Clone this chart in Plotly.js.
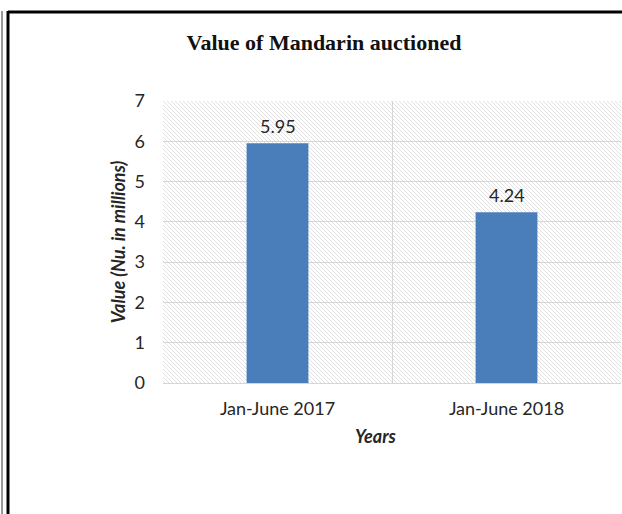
<!DOCTYPE html>
<html>
<head>
<meta charset="utf-8">
<script src="https://cdn.plot.ly/plotly-3.0.1.min.js"></script>
<style>
  html, body { margin: 0; padding: 0; background: #fff; }
  #chart { width: 622px; height: 514px; }
</style>
</head>
<body>
<div id="chart"></div>
<script>
// ---- data ----
const categories = ["Jan-June 2017", "Jan-June 2018"];
const values = [5.95, 4.24];
const valueLabels = ["5.95", "4.24"];
const yTicks = [0, 1, 2, 3, 4, 5, 6, 7];

// ---- geometry (pixels) ----
const W = 622, H = 514;
const M = { l: 163, r: 1, t: 101, b: 131 };
const PW = W - M.l - M.r, PH = H - M.t - M.b;
const px = v => (v - M.l) / PW;          // pixel x -> paper x
const py = v => (H - M.b - v) / PH;      // pixel y -> paper y

// hatched plot background as an SVG image
const svg = '<svg xmlns="http://www.w3.org/2000/svg" width="' + PW + '" height="' + PH + '">' +
  '<defs><pattern id="p" width="4" height="4" patternUnits="userSpaceOnUse">' +
  '<path d="M-1,-1 L5,5 M-1,3 L1,5 M3,-1 L5,1" stroke="#dedede" stroke-width="0.9"/>' +
  '</pattern></defs><rect width="100%" height="100%" fill="#fff"/>' +
  '<rect width="100%" height="100%" fill="url(#p)"/></svg>';
const bgSrc = 'data:image/svg+xml;charset=utf-8,' + encodeURIComponent(svg);

const textFont = { family: "Lato, Open Sans, sans-serif", size: 18, color: "#262626" };

const trace = {
  type: "bar",
  x: categories,
  y: values,
  marker: { color: "#4a7ebb" },
  hoverinfo: "x+y"
};

const annotations = categories.map((c, i) => ({
  x: c, y: values[i], xref: "x", yref: "y",
  text: valueLabels[i], showarrow: false,
  yanchor: "bottom", yshift: 4,
  font: textFont
}));
annotations.push({
  text: "<b><i>Years</i></b>", showarrow: false,
  xref: "paper", yref: "paper", x: px(376), y: py(436),
  xanchor: "center", yanchor: "middle",
  font: textFont
});

const lineCol = "#000";
const shapes = [
  { type: "line", xref: "paper", yref: "paper", x0: px(8), x1: px(640), y0: py(12), y1: py(12), line: { color: lineCol, width: 3 } },
  { type: "line", xref: "paper", yref: "paper", x0: px(8), x1: px(8), y0: py(11), y1: py(530), line: { color: lineCol, width: 3 } },
  { type: "line", xref: "paper", yref: "paper", x0: px(2), x1: px(2), y0: py(11), y1: py(530), line: { color: "#333", width: 1 } }
];

const layout = {
  width: W, height: H,
  margin: M,
  paper_bgcolor: "#fff",
  plot_bgcolor: "rgba(0,0,0,0)",
  showlegend: false,
  bargap: 0.73,
  title: {
    text: "<b>Value of Mandarin auctioned</b>",
    font: { family: "Liberation Serif, Times New Roman, serif", size: 22, color: "#111" },
    x: px(324), xref: "paper", xanchor: "center",
    y: 1 - 42 / H, yref: "container", yanchor: "middle"
  },
  xaxis: {
    type: "category",
    tickson: "boundaries",
    showgrid: true, gridcolor: "#d6d6d6", gridwidth: 1,
    showline: true, linecolor: "#d6d6d6", linewidth: 1,
    ticks: "", ticklabelstandoff: 9,
    tickfont: textFont,
    zeroline: false,
    fixedrange: true
  },
  yaxis: {
    range: [0, 7],
    tickvals: yTicks,
    ticktext: yTicks.map(String),
    showgrid: true, gridcolor: "#d6d6d6", gridwidth: 1,
    zeroline: false,
    showline: false,
    ticks: "", ticklabelstandoff: 17,
    tickfont: textFont,
    title: { text: "<b><i>Value (Nu. in millions)</i></b>", font: textFont, standoff: 4 },
    fixedrange: true
  },
  images: [{
    source: bgSrc, xref: "paper", yref: "paper",
    x: 0, y: 1, sizex: 1, sizey: 1,
    xanchor: "left", yanchor: "top",
    sizing: "stretch", layer: "below"
  }],
  annotations: annotations,
  shapes: shapes
};

Plotly.newPlot("chart", [trace], layout, { displayModeBar: false, staticPlot: true });
</script>
</body>
</html>
